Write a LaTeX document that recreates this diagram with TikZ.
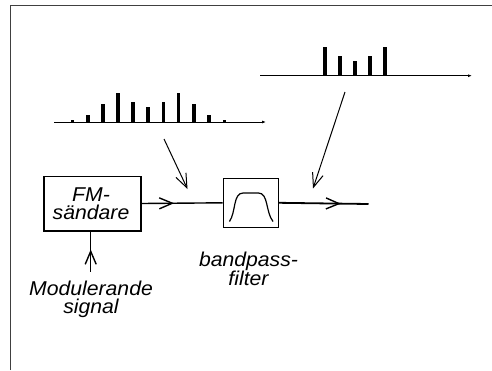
\documentclass[tikz,border=0pt]{standalone}
\usepackage{fontspec}
\setmainfont{Liberation Sans}[FakeStretch=1.06]
\usetikzlibrary{arrows.meta,decorations.markings}
\tikzset{
  px/.style={x=1pt,y=-1pt},
  lbl/.style={font=\fontsize{20}{18.5}\selectfont\itshape, align=center, inner sep=0pt},
  blk/.style={draw, line width=1.5pt, inner sep=0pt},
  sig/.style={line width=1.4pt},
  midarrow/.style={postaction={decorate},decoration={markings,
     mark=at position #1 with {\arrow{Straight Barb[length=13pt,width=11pt,line width=1.4pt]}}}},
  axis/.style={line width=1pt,-{Latex[length=4pt,width=3pt]}},
  bar/.style={fill=black},
  pointer/.style={line width=1pt,-{Straight Barb[length=14pt,width=11pt,line width=1pt]}},
}
\begin{document}
\begin{tikzpicture}[px]
\useasboundingbox (0,0) rectangle (492,370);
% frame
\draw[line width=1.4pt, black!75] (10.5,370) -- (10.5,5.5) -- (492,5.5);

% FM box
\node[blk, minimum width=97pt, minimum height=54.5pt] (fm) at (92.5,203.5) {};
\node[lbl] (fmtxt) at (91,203.5) {FM-\\sändare};

% filter box
\node[blk, minimum width=55pt, minimum height=49pt] (bp) at (250.8,202.8) {};
\draw[line width=1.2pt] (229.5,221.5) .. controls (236,212) and (233,193) .. (243,193)
   -- (258.5,193) .. controls (268.5,193) and (265.5,212) .. (273,221.5);

% main signal lines
\draw[sig, midarrow=0.4] (fm.east) -- (bp.west);
\coordinate (out) at (368.5,204);
\draw[sig, line width=1.8pt, midarrow=0.69] (bp.east) -- (out);

% modulating signal
\coordinate (modin) at (90.7,271.5);
\draw[sig, midarrow=0.55] (modin) -- (fm.south -| modin);
\node[lbl, anchor=north] (mod) at (91,280.5) {Modulerande\\signal};

% filter label
\node[lbl, anchor=north] (bplbl) at (248.5,251.5) {bandpass-\\filter};

% spectrum 1
\coordinate (s1a) at (54,122);
\coordinate (s1b) at (266,122);
\draw[axis] (s1a) -- (s1b);
\foreach \x/\h in {72.5/1.7,87.7/7.3,102.7/17.7,117.8/29,133/19.7,148.2/15.3,163.4/19.7,178.6/29,193.8/17.7,209/7.3,224.3/1.7}
  \fill[bar] (\x-1.8,122) rectangle (\x+1.8,122-\h);

% spectrum 2
\coordinate (s2a) at (260,75.7);
\coordinate (s2b) at (472,75.7);
\draw[axis] (s2a) -- (s2b);
\foreach \x/\h in {325/29,340/20,355/15,370/20,385/29}
  \fill[bar] (\x-1.8,75.7) rectangle (\x+1.8,75.7-\h);

% pointers
\coordinate (p1a) at (164,139);
\coordinate (p1b) at (187.5,189);
\draw[pointer] (p1a) -- (p1b);
\coordinate (p2a) at (345,92);
\coordinate (p2b) at (313,188.5);
\draw[pointer] (p2a) -- (p2b);
\end{tikzpicture}
\end{document}
